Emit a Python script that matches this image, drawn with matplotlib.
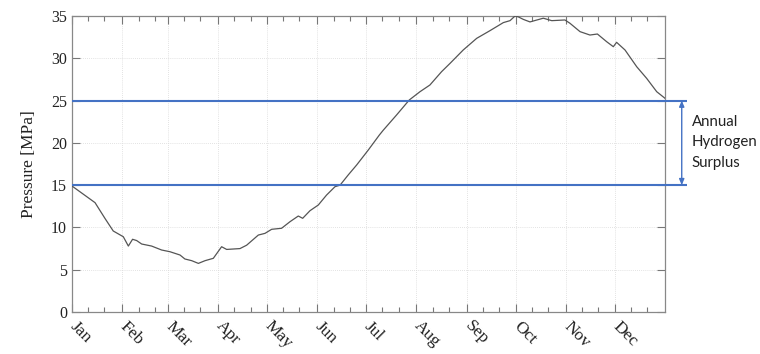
import matplotlib
matplotlib.use("Agg")
import matplotlib.pyplot as plt
import matplotlib.transforms as mtransforms
import numpy as np

# ---- data ----
days = [0, 14.2, 20.3, 25.4, 31.6, 34.7, 37.3, 39.8, 42.9, 49, 55.2, 60.3, 66.5, 69.5,
        73.7, 77.8, 81.9, 87, 92.1, 95.2, 103.4, 107.5, 114.7, 118.8, 122.9, 129,
        134.2, 139.3, 142, 146.5, 151.6, 156.7, 161.9, 165, 170, 175.2, 182.4, 189.2,
        191.6, 199.8, 207.6, 214.2, 220.3, 227.5, 232.7, 240.8, 249.1, 257.3, 265.5,
        269.6, 272.7, 274.7, 277.8, 281.9, 290.1, 295.3, 303.4, 306.5, 312.7, 318.8,
        323.4, 329.1, 333.2, 335.2, 340.4, 347.6, 353.7, 359.9, 365]
pressure = [14.9, 12.93, 11.07, 9.58, 8.9, 7.8, 8.6, 8.45, 8.04, 7.8, 7.33, 7.13, 6.74, 6.27,
            6.07, 5.75, 6.07, 6.35, 7.72, 7.4, 7.5, 7.9, 9.1, 9.3, 9.78, 9.9,
            10.68, 11.35, 11.08, 11.98, 12.65, 13.83, 14.82, 15.0, 16.2, 17.38, 19.16, 20.93,
            21.5, 23.3, 25.07, 26.05, 26.84, 28.42, 29.4, 30.98, 32.36, 33.27, 34.22,
            34.45, 35.0, 34.9, 34.6, 34.3, 34.74, 34.45, 34.53, 34.14, 33.15, 32.75,
            32.87, 31.96, 31.37, 31.89, 30.98, 29.0, 27.63, 26.05, 25.27]

month_labels = ["Jan", "Feb", "Mar", "Apr", "May", "Jun", "Jul", "Aug", "Sep", "Oct", "Nov", "Dec"]
month_starts = [0, 31, 59, 90, 120, 151, 181, 212, 243, 273, 304, 334]
surplus_low, surplus_high = 15, 25
annotation = "Annual\nHydrogen\nSurplus"
ylabel = "Pressure [MPa]"

# ---- figure ----
fig = plt.figure(figsize=(7.6, 3.54), dpi=100)
ax = fig.add_axes([0.0947, 0.1186, 0.7803, 0.8362])

blue = "#4472C4"
serif = "Liberation Serif"

ax.plot(days, pressure, color="#555555", lw=0.9, zorder=3)

ax.set_xlim(0, 365)
ax.set_ylim(0, 35)

ax.set_xticks(month_starts)
ax.set_xticklabels([])
# month labels, rotated, placed just below each major tick
base = ax.get_xaxis_transform()
lab_trans = mtransforms.offset_copy(base, fig=fig, x=6, y=-6, units="dots")
for m, name in zip(month_starts, month_labels):
    ax.text(m, 0, name, transform=lab_trans, rotation=-45, rotation_mode="anchor",
            ha="left", va="top", family=serif, fontsize=12.5, color="#222222",
            clip_on=False)

minor = [m + d for m in month_starts for d in (10, 20)]
ax.set_xticks(minor, minor=True)
ax.set_yticks(range(0, 36, 5))
for lab in ax.get_yticklabels():
    lab.set_family(serif)
    lab.set_fontsize(11.5)

ax.tick_params(axis="both", which="major", direction="in", length=6, width=0.8,
               color="#777777", top=True, right=True, labelcolor="#222222")
ax.tick_params(axis="x", which="minor", direction="in", length=3.5, width=0.8,
               color="#777777", top=True, bottom=True)

ax.grid(True, which="major", color="#d9d9d9", linestyle=(0, (1, 1.5)), lw=0.6)
ax.set_axisbelow(True)
for s in ax.spines.values():
    s.set_color("#888888")
    s.set_linewidth(0.9)

ax.set_ylabel(ylabel, family=serif, fontsize=12.5, color="#222222", labelpad=10)

# surplus lines and arrow
x_end = 378.5
for yv in (surplus_low, surplus_high):
    ax.plot([0, x_end], [yv, yv], color=blue, lw=1.5, clip_on=False, zorder=4,
            solid_capstyle="butt")
ax.annotate("", xy=(375.3, surplus_low), xytext=(375.3, surplus_high),
            xycoords="data", textcoords="data", annotation_clip=False,
            arrowprops=dict(arrowstyle="<|-|>,head_length=0.35,head_width=0.15",
                            color=blue, lw=1.0, shrinkA=0, shrinkB=0))
ax.text(381.5, 20.05, annotation, family="Lato", fontsize=10.8, color="#222222",
        ha="left", va="center", linespacing=1.6, clip_on=False)

fig.savefig("out.png", dpi=100)
